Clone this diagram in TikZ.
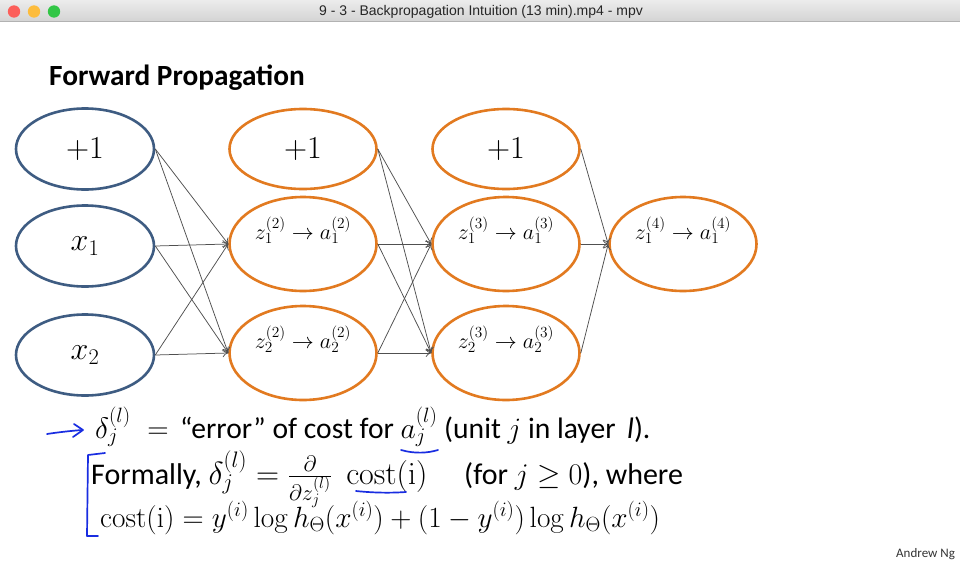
\RequirePackage{fix-cm}
\documentclass[tikz,border=0pt]{standalone}
\usepackage[no-math]{fontspec}
\setmainfont{Carlito}
\newfontfamily\barfont{Liberation Sans}
\usepackage{xcolor}
\usepackage{tikz}
\usetikzlibrary{arrows.meta,shapes.geometric}

\definecolor{barTop}{RGB}{236,236,236}
\definecolor{barBot}{RGB}{212,212,212}
\definecolor{barLine}{RGB}{178,178,178}
\definecolor{lightRed}{RGB}{252,95,90}
\definecolor{lightYellow}{RGB}{253,188,60}
\definecolor{lightGreen}{RGB}{50,198,70}
\definecolor{inBlue}{RGB}{62,92,130}
\definecolor{unitOrange}{RGB}{226,122,32}
\definecolor{wireGray}{RGB}{80,80,80}
\definecolor{penBlue}{RGB}{25,45,225}

\begin{document}
\begin{tikzpicture}[
    x=1pt, y=-1pt,
    >={To[length=5.5pt,width=8pt]},
    inunit/.style={ellipse, draw=inBlue, line width=2.6pt, minimum width=138pt, minimum height=81pt, inner sep=0pt, font=\fontsize{32}{36}\selectfont},
    bias/.style={ellipse, draw=unitOrange, line width=2.6pt, minimum width=147pt, minimum height=80pt, inner sep=0pt, font=\fontsize{32}{36}\selectfont},
    hid/.style={ellipse, draw=unitOrange, line width=2.6pt, minimum width=147pt, minimum height=94pt, inner sep=0pt},
    zlab/.style={font=\fontsize{22}{26}\selectfont, inner sep=0pt},
    wire/.style={->, draw=wireGray, line width=0.75pt},
    ink/.style={draw=penBlue, line width=1.7pt, line cap=round, line join=round},
    txt/.style={anchor=base west, inner sep=0pt, font=\fontsize{30}{34}\selectfont}
  ]
    \fill[white] (0,0) rectangle (960,562);
    \useasboundingbox (0,0) rectangle (960,562);

    % window bar
    \shade[top color=barTop, bottom color=barBot] (0,0) rectangle (960,21);
    \draw[barLine, line width=0.8pt] (0,21.4) -- (960,21.4);
    \fill[lightRed] (14,11.5) circle (6.2pt);
    \fill[lightYellow] (34,11.5) circle (6.2pt);
    \fill[lightGreen] (54,11.5) circle (6.2pt);
    \node[font=\barfont\fontsize{14}{16}\selectfont, text=black!85, inner sep=0pt] (wintitle) at (481,11.5) {9 - 3 - Backpropagation Intuition (13 min).mp4 - mpv};

    \node[anchor=base west, inner sep=0pt, font=\bfseries\fontsize{29.3}{33}\selectfont] (heading) at (49,85) {Forward Propagation};

    \node[inunit] (in0) at (85,149) {$+1$};
    \node[inunit] (in1) at (85,246) {$x_1$};
    \node[inunit] (in2) at (85,355) {$x_2$};

    \node[bias] (b2) at (303,149) {$+1$};
    \node[hid] (h21) at (303,244) {};
    \node[hid] (h22) at (303,353) {};
    \node[zlab] (t21) at ([yshift=14pt]h21.center) {$z_1^{(2)}\to a_1^{(2)}$};
    \node[zlab] (t22) at ([yshift=14pt]h22.center) {$z_2^{(2)}\to a_2^{(2)}$};

    \node[bias] (b3) at (506,149) {$+1$};
    \node[hid] (h31) at (506,244) {};
    \node[hid] (h32) at (506,353) {};
    \node[zlab] (t31) at ([yshift=14pt]h31.center) {$z_1^{(3)}\to a_1^{(3)}$};
    \node[zlab] (t32) at ([yshift=14pt]h32.center) {$z_2^{(3)}\to a_2^{(3)}$};

    \node[hid] (out) at (683,244) {};
    \node[zlab] (t41) at ([yshift=14pt]out.center) {$z_1^{(4)}\to a_1^{(4)}$};

    \foreach \s in {in0,in1,in2} {
      \foreach \t in {h21,h22} {
        \draw[wire] (\s.east) -- (\t.west);
      }
    }
    \foreach \s in {b2,h21,h22} {
      \foreach \t in {h31,h32} {
        \draw[wire] (\s.east) -- (\t.west);
      }
    }
    \foreach \s in {b3,h31,h32} {
      \draw[wire] (\s.east) -- (out.west);
    }

    \node[txt, font=\fontsize{29.6}{34}\selectfont] (line1) at (95,438) {$\delta_j^{(l)}\;=\,$ “error” of cost for $a_j^{(l)}$ (unit $j$ in layer \,\textit{l}).};
    \node[txt] (line2) at (91,484) {Formally, {\fontsize{32}{36}\selectfont$\delta_j^{(l)}=\frac{\partial}{\partial z_j^{(l)}}\;\,\mathrm{cost}(\mathrm{i})$}\quad\ (for $j\geq 0$), where};
    \node[txt, font=\fontsize{29.3}{33}\selectfont] (line3) at (100,527) {$\mathrm{cost}(\mathrm{i})=y^{(i)}\log h_\Theta(x^{(i)})+(1-y^{(i)})\log h_\Theta(x^{(i)})$};

    % pen marks
    \draw[ink] (47,434) .. controls (60,432) and (70,431) .. (82,430);
    \draw[ink] (74,424) -- (83,430) -- (73,437);
    \draw[ink] (401,450) .. controls (415,454) and (428,453) .. (438,450);
    \draw[ink] (356,491) .. controls (375,493) and (392,493) .. (406,492);
    \draw[ink] (105,453) -- (88,455) -- (87,536) -- (98,536);

    \node[anchor=base west, inner sep=0pt, font=\fontsize{13}{15}\selectfont, text=black!80] (author) at (896,557) {Andrew Ng};
  \end{tikzpicture}
\end{document}
